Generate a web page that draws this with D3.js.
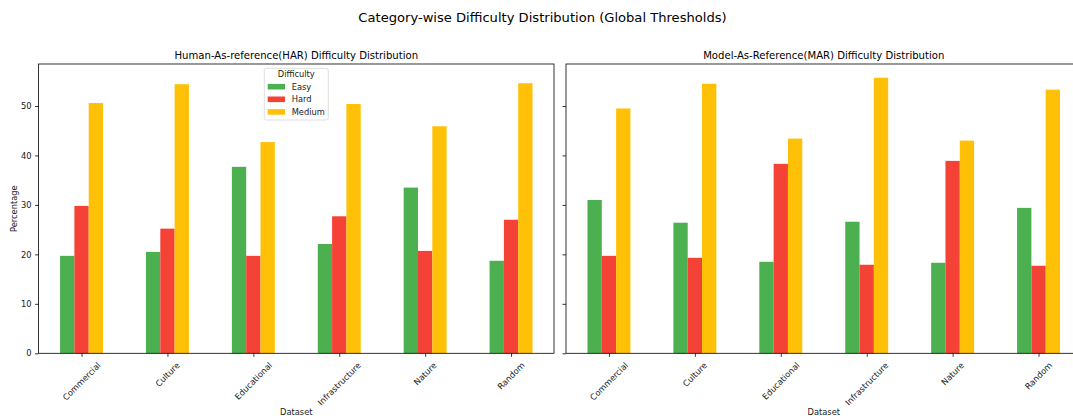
<!DOCTYPE html>
<html>
<head>
<meta charset="utf-8">
<script src="https://cdn.jsdelivr.net/npm/d3@7"></script>
<style>
  html, body { margin: 0; padding: 0; background: #fff; }
  svg { display: block; font-family: "DejaVu Sans", sans-serif; }
</style>
</head>
<body>
<svg id="chart" width="1073" height="419"></svg>
<script>
// Datasets along the x axis
const categories = ["Commercial", "Culture", "Educational", "Infrastructure", "Nature", "Random"];
const difficulties = ["Easy", "Hard", "Medium"];
const colors = ["#4CAF50", "#F44336", "#FFC107"];

// Human-As-reference (HAR) percentages per dataset
const harEasy   = [19.7, 20.5, 37.7, 22.1, 33.5, 18.7];
const harHard   = [29.8, 25.2, 19.7, 27.7, 20.7, 27.0];
const harMedium = [50.6, 54.4, 42.7, 50.4, 45.9, 54.6];

// Model-As-Reference (MAR) percentages per dataset
const marEasy   = [31.0, 26.4, 18.5, 26.6, 18.3, 29.4];
const marHard   = [19.7, 19.3, 38.3, 17.9, 38.9, 17.7];
const marMedium = [49.5, 54.5, 43.4, 55.7, 43.0, 53.3];

const yTicks = [0, 10, 20, 30, 40, 50];

const panels = [
  { title: "Human-As-reference(HAR) Difficulty Distribution", series: [harEasy, harHard, harMedium], x0: 38.6, x1: 554, yLabels: true, legend: true },
  { title: "Model-As-Reference(MAR) Difficulty Distribution", series: [marEasy, marHard, marMedium], x0: 566, x1: 1081.5, yLabels: false, legend: false }
];

const svg = d3.select("#chart");
const plotTop = 64, plotBottom = 353.3;

// shared y scale (matplotlib-style 5% headroom)
const allVals = panels.flatMap(p => p.series.flat());
const yMax = d3.max(allVals) * 1.05;
const y = d3.scaleLinear().domain([0, yMax]).range([plotBottom, plotTop]);

svg.append("text")
  .attr("x", 542.5).attr("y", 22)
  .attr("text-anchor", "middle")
  .attr("font-size", 13.1).attr("fill", "#000")
  .text("Category-wise Difficulty Distribution (Global Thresholds)");

const tickFont = 8.3;

panels.forEach(p => {
  const g = svg.append("g");
  // one unit per category, xlim = [-0.5, n-0.5]
  const x = d3.scaleLinear().domain([-0.5, categories.length - 0.5]).range([p.x0, p.x1]);
  const barW = 0.5 / difficulties.length;

  // bars
  difficulties.forEach((d, si) => {
    g.append("g").selectAll("rect")
      .data(p.series[si])
      .join("rect")
      .attr("x", (v, i) => x(i - 0.25 + si * barW))
      .attr("width", x(barW) - x(0))
      .attr("y", v => y(v))
      .attr("height", v => y(0) - y(v))
      .attr("fill", colors[si]);
  });

  // y axis
  const yAxis = d3.axisLeft(y).tickValues(yTicks).tickSize(3.5).tickPadding(3.5)
    .tickFormat(p.yLabels ? d3.format("d") : () => "");
  const ya = g.append("g").attr("transform", `translate(${p.x0},0)`).call(yAxis);
  ya.select(".domain").remove();
  ya.selectAll("text").attr("font-size", tickFont).attr("fill", "#222").attr("font-family", "DejaVu Sans");
  ya.selectAll("line").attr("stroke", "#000").attr("stroke-width", 0.8);

  // x axis
  const xAxis = d3.axisBottom(x).tickValues(d3.range(categories.length)).tickSize(3.5).tickFormat(() => "");
  const xa = g.append("g").attr("transform", `translate(0,${plotBottom})`).call(xAxis);
  xa.select(".domain").remove();
  xa.selectAll("line").attr("stroke", "#000").attr("stroke-width", 0.8);

  // rotated category labels, centred under each tick
  categories.forEach((c, i) => {
    const t = g.append("text")
      .attr("font-size", tickFont).attr("fill", "#222")
      .attr("text-anchor", "middle").attr("dominant-baseline", "central")
      .text(c);
    const w = t.node().getComputedTextLength();
    const side = (w + tickFont * 1.15) / Math.SQRT2;
    const cx = x(i), cy = plotBottom + 3.5 + 3.5 + side / 2;
    t.attr("transform", `translate(${cx},${cy}) rotate(-45)`);
  });

  // spines
  g.append("rect")
    .attr("x", p.x0).attr("y", plotTop)
    .attr("width", p.x1 - p.x0).attr("height", plotBottom - plotTop)
    .attr("fill", "none").attr("stroke", "#000").attr("stroke-width", 0.8);

  // panel title
  const cxm = (p.x0 + p.x1) / 2;
  g.append("text").attr("x", cxm).attr("y", 58.5)
    .attr("text-anchor", "middle").attr("font-size", 10.1).attr("fill", "#000")
    .text(p.title);

  // x label
  g.append("text").attr("x", cxm).attr("y", 415)
    .attr("text-anchor", "middle").attr("font-size", tickFont).attr("fill", "#222")
    .text("Dataset");

  if (p.yLabels) {
    g.append("text")
      .attr("transform", `translate(17,${(plotTop + plotBottom) / 2}) rotate(-90)`)
      .attr("text-anchor", "middle").attr("font-size", tickFont).attr("fill", "#222")
      .text("Percentage");
  }

  if (p.legend) {
    const lx = 264.3, ly = 68.3, lw = 64, lh = 51.7;
    const lg = g.append("g");
    lg.append("rect").attr("x", lx).attr("y", ly).attr("width", lw).attr("height", lh)
      .attr("rx", 2).attr("fill", "#fff").attr("fill-opacity", 0.8)
      .attr("stroke", "#d6d6d6").attr("stroke-width", 0.8);
    lg.append("text").attr("x", lx + lw / 2).attr("y", ly + 8.8)
      .attr("text-anchor", "middle").attr("font-size", tickFont).attr("fill", "#222")
      .text("Difficulty");
    difficulties.forEach((d, si) => {
      const cy = ly + 18.4 + si * 12.6;
      lg.append("rect").attr("x", lx + 3.4).attr("y", cy - 2.8)
        .attr("width", 17.3).attr("height", 5.6).attr("fill", colors[si]);
      lg.append("text").attr("x", lx + 27.4).attr("y", cy)
        .attr("dominant-baseline", "central").attr("font-size", tickFont).attr("fill", "#222")
        .text(d);
    });
  }
});
</script>
</body>
</html>
